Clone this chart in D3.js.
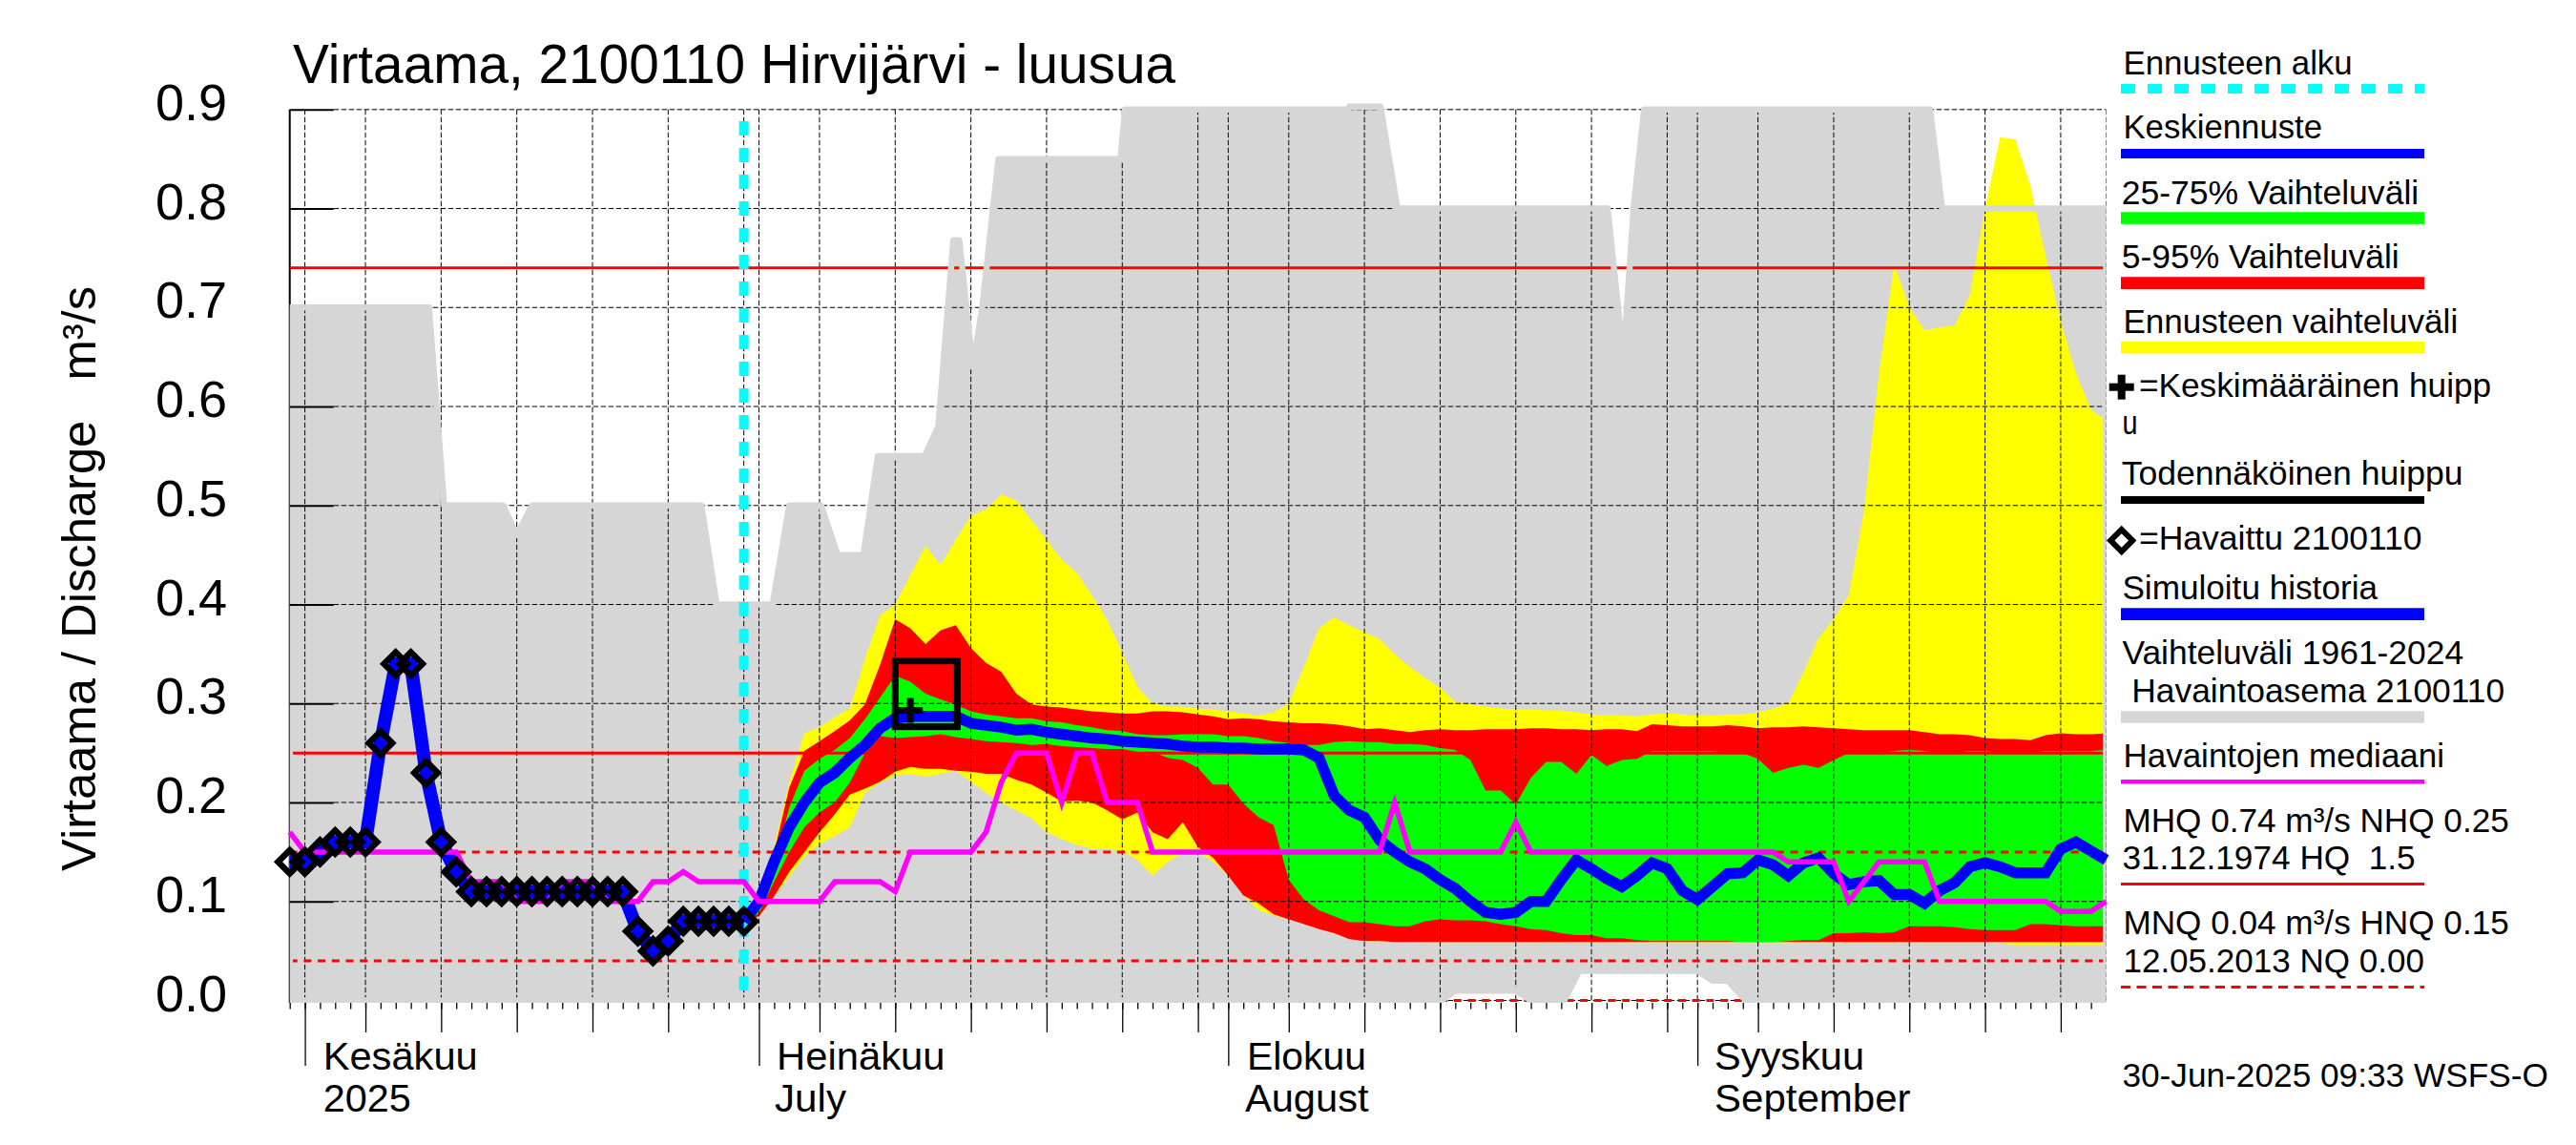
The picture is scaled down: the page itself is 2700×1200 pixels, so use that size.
<!DOCTYPE html>
<html>
<head>
<meta charset="utf-8">
<script src="https://cdn.jsdelivr.net/npm/d3@7"></script>
<style>
body { margin: 0; background: #fff; }
text { font-family: "Liberation Sans", Arial, sans-serif; fill: #000; white-space: pre; }
</style>
</head>
<body>
<svg id="chart" width="2700" height="1200"></svg>
<script>
// day number 0 = 31 May 2025
var yTicks = [0, 0.1, 0.2, 0.3, 0.4, 0.5, 0.6, 0.7, 0.8, 0.9];
var smallTickDays = d3.range(0, 120);
var midTickDays = [5, 10, 15, 20, 25, 35, 40, 45, 50, 55, 60, 66, 71, 76, 81, 86, 91, 97, 102, 107, 112, 117];
var monthDays = [1, 31, 62, 93];
var extraGridDays = [30, 120];
var monthNames = ["Kesäkuu", "Heinäkuu", "Elokuu", "Syyskuu"];
var monthSecond = ["2025", "July", "August", "September"];

var forecastStart = 30;
var MHQ = 0.74, NHQ = 0.25, HNQ = 0.15, MNQ = 0.04, NQ = 0;

var observed = [
	.14,.14,.15,.16,.16,.16,.26,.34,.34,.23,
	.16,.13,.11,.11,.11,.11,.11,.11,.11,.11,
	.11,.11,.11,.07,.05,.06,.08,.08,.08,.08,
	.08];

var median = [
	.17,.15,.15,.15,.15,.15,.15,.15,.15,.15,
	.15,.15,.12,.12,.12,.1,.1,.1,.12,.12,
	.12,.1,.1,.1,.12,.12,.13,.12,.12,.12,
	.12,.1,.1,.1,.1,.1,.12,.12,.12,.12,
	.11,.15,.15,.15,.15,.15,.17,.22,.25,.25,
	.25,.2,.25,.25,.2,.2,.2,.15,.15,.15,
	.15,.15,.15,.15,.15,.15,.15,.15,.15,.15,
	.15,.15,.15,.2,.15,.15,.15,.15,.15,.15,
	.15,.18,.15,.15,.15,.15,.15,.15,.15,.15,
	.15,.15,.15,.15,.15,.15,.15,.15,.15,.14,
	.14,.14,.14,.1,.12,.14,.14,.14,.14,.1,
	.1,.1,.1,.1,.1,.1,.1,.09,.09,.09,
	.1];

// forecast series, first value is day 30
var forecastMean = [
	.08,.1,.14,.175,.2,.22,.23,.245,.258,.275,
	.285,.287,.287,.287,.287,.28,.278,.276,.273,.274,
	.271,.269,.267,.265,.264,.262,.261,.26,.259,.257,
	.256,.256,.255,.255,.254,.254,.254,.253,.245,.207,
	.192,.185,.162,.15,.14,.133,.122,.113,.1,.089,
	.087,.089,.1,.1,.122,.142,.133,.123,.115,.126,
	.139,.133,.111,.102,.115,.128,.129,.142,.137,.126,
	.139,.144,.128,.117,.12,.121,.107,.107,.098,.111,
	.119,.135,.139,.135,.129,.129,.129,.153,.16,.151,
	.142];

var yellowHigh = [
	.08,.105,.155,.22,.27,.276,.286,.295,.345,.389,
	.40,.43,.459,.44,.465,.49,.496,.511,.505,.485,
	.465,.445,.432,.409,.385,.351,.317,.30,.297,.297,
	.295,.294,.292,.29,.288,.291,.30,.337,.376,.387,
	.379,.372,.365,.35,.337,.326,.316,.302,.299,.297,
	.295,.294,.294,.293,.293,.291,.289,.288,.288,.287,
	.289,.29,.289,.288,.288,.289,.289,.291,.295,.30,
	.331,.366,.385,.41,.494,.634,.744,.70,.677,.68,
	.682,.713,.80,.872,.87,.823,.752,.686,.634,.597,
	.586];

var yellowLow = [
	.08,.09,.105,.125,.145,.158,.166,.175,.21,.22,
	.227,.229,.226,.229,.232,.221,.21,.20,.192,.184,
	.17,.163,.157,.153,.153,.151,.142,.126,.14,.149,
	.15,.14,.126,.106,.091,.086,.082,.077,.072,.068,
	.062,.06,.06,.059,.059,.058,.058,.058,.058,.058,
	.058,.058,.058,.058,.058,.058,.058,.058,.058,.058,
	.058,.058,.058,.058,.058,.058,.058,.058,.058,.058,
	.058,.058,.058,.058,.058,.058,.058,.058,.058,.058,
	.058,.058,.058,.058,.056,.056,.056,.056,.056,.056,
	.056];

var redHigh = [
	.08,.1,.15,.215,.252,.262,.272,.283,.299,.339,
	.385,.376,.36,.374,.379,.356,.341,.332,.31,.299,
	.297,.296,.294,.292,.291,.29,.29,.292,.292,.291,
	.289,.287,.284,.285,.284,.282,.281,.28,.28,.279,
	.277,.274,.275,.273,.271,.273,.274,.273,.273,.274,
	.274,.274,.275,.275,.274,.274,.273,.274,.274,.272,
	.279,.278,.277,.277,.277,.278,.277,.275,.276,.276,
	.277,.276,.275,.274,.273,.273,.273,.273,.271,.269,
	.269,.268,.265,.264,.264,.263,.268,.27,.269,.269,
	.27];

var redLow = [
	.08,.085,.105,.13,.15,.17,.188,.208,.214,.221,
	.231,.236,.234,.234,.232,.231,.229,.229,.223,.218,
	.21,.201,.202,.20,.192,.183,.19,.17,.163,.18,
	.155,.144,.126,.106,.098,.087,.082,.077,.072,.068,
	.062,.06,.06,.059,.059,.059,.059,.059,.059,.059,
	.059,.059,.059,.059,.059,.059,.059,.059,.059,.059,
	.059,.059,.059,.059,.059,.059,.059,.059,.059,.059,
	.059,.059,.059,.059,.059,.059,.059,.059,.059,.059,
	.059,.059,.059,.059,.059,.059,.059,.059,.059,.059,
	.059];

var greenHigh = [
	.08,.095,.135,.195,.232,.244,.253,.265,.284,.306,
	.328,.322,.31,.304,.299,.292,.289,.287,.285,.285,
	.282,.281,.278,.276,.273,.272,.269,.268,.268,.269,
	.269,.269,.267,.267,.265,.262,.26,.258,.258,.261,
	.262,.261,.261,.259,.259,.258,.255,.253,.243,.212,
	.212,.198,.225,.241,.241,.229,.248,.237,.243,.244,
	.252,.252,.252,.252,.252,.25,.25,.244,.23,.235,
	.238,.235,.243,.25,.25,.25,.252,.253,.252,.25,
	.25,.252,.252,.25,.25,.25,.252,.252,.252,.252,
	.253];

var greenLow = [
	.08,.088,.12,.15,.175,.19,.2,.22,.25,.267,
	.265,.266,.267,.269,.266,.264,.262,.261,.26,.258,
	.259,.257,.256,.255,.254,.254,.251,.251,.245,.243,
	.235,.218,.218,.199,.185,.177,.122,.102,.091,.085,
	.079,.079,.077,.075,.075,.08,.082,.081,.081,.08,
	.077,.075,.072,.071,.068,.066,.066,.063,.063,.061,
	.06,.06,.06,.06,.06,.06,.059,.059,.059,.06,
	.061,.061,.068,.068,.069,.068,.069,.075,.075,.075,
	.074,.072,.071,.071,.071,.077,.077,.076,.075,.075,
	.075];

// historic range 1961-2024, only the break points of its outline
var grayHighDays = [0,9.2,10.2,14.1,15,16,27.2,28.2,31.9,33,35.1,36.2,37.9,38.85,41.95,42.85,43.84,44.23,45.13,45.75,46.82,54.89,55.18,69.95,70,72.06,73.18,87.07,88.03,88.17,88.78,89.48,108.37,109.17,120];
var grayHighValues = [.7,.7,.5,.5,.47,.5,.5,.4,.4,.5,.5,.45,.45,.55,.55,.58,.768,.768,.64,.7,.85,.85,.9,.9,.903,.903,.8,.8,.66,.66,.8,.9,.9,.8,.8];
var grayLowDays = [0,76.1,77,81,82,84.2,85.2,93,94,95,96.2,120];
var grayLowValues = [0,0,.01,.01,0,0,.03,.03,.02,.02,0,0];

var peakBoxDays = [40, 44.1];
var peakBoxValues = [.2765, .343];
var meanPeakDay = 41;
var meanPeakValue = .293;

var title = "Virtaama, 2100110 Hirvijärvi - luusua";
var yLabel = "Virtaama / Discharge   m³/s";
var legendTexts = [
	"Ennusteen alku", "Keskiennuste", "25-75% Vaihteluväli", "5-95% Vaihteluväli",
	"Ennusteen vaihteluväli", "=Keskimääräinen huipp", "u", "Todennäköinen huippu",
	"=Havaittu 2100110", "Simuloitu historia", "Vaihteluväli 1961-2024", " Havaintoasema 2100110",
	"Havaintojen mediaani", "MHQ 0.74 m³/s NHQ 0.25", "31.12.1974 HQ  1.5",
	"MNQ 0.04 m³/s HNQ 0.15", "12.05.2013 NQ 0.00", "30-Jun-2025 09:33 WSFS-O"
];

// layout
var legendTextX = [2225.4,2225.4,2223.7,2223.7,2225.4,2241.9,2224.4,2223.7,2241.9,2224.4,2224.4,2224.4,2225.4,2225.4,2224.4,2225.4,2225.4,2224.4];
var legendTextW = [240.3,208.7,311.5,291,350.8,369.3,16,357.8,296.7,267.6,357.8,400.8,336.7,404.4,307.3,404.4,315.7,446.5];
var legendTextY = [77.7,145.4,213.5,281,349,416.4,455.4,508,576,627.6,695.7,735.9,804,871.7,911,978.9,1019,1138.8];
var monthX = [338.7, 814, 1307, 1797];
var monthW = [162, 176.6, 125, 157];
var secondX = [338.7, 812, 1305, 1797];
var secondW = [92, 75, 129.5, 205.5];

var left = 303.7, right = 2207.5, bottom = 1051;
var x = d3.scaleLinear().domain([0, 120]).range([left, right]);
var y = d3.scaleLinear().domain([0, 0.9]).range([1048.5, 114.8]);

var svg = d3.select("#chart");

svg.append("defs").append("clipPath").attr("id", "plot")
	.append("rect").attr("x", left).attr("y", 100).attr("width", right - left).attr("height", bottom - 100);

var plot = svg.append("g").attr("clip-path", "url(#plot)");

// gray range fill
var outline = grayHighDays.map(function (d, i) { return [x(d), y(grayHighValues[i])]; })
	.concat(grayLowDays.map(function (d, i) { return [x(d), y(grayLowValues[i])]; }).reverse());
var outlinePath = d3.line().curve(d3.curveLinearClosed)(outline);
plot.append("path").attr("d", outlinePath).attr("fill", "#d6d6d6");

// forecast bands
var bandDays = d3.range(forecastStart, 121);
function drawBand(high, low, color) {
	var area = d3.area()
		.x(function (d, i) { return x(d); })
		.y0(function (d, i) { return y(low[i]); })
		.y1(function (d, i) { return y(high[i]); });
	plot.append("path").attr("d", area(bandDays)).attr("fill", color);
}
drawBand(yellowHigh, yellowLow, "#ffff00");
drawBand(redHigh, redLow, "#ff0000");
drawBand(greenHigh, greenLow, "#00ff00");

// grid
var gridDays = midTickDays.concat(monthDays, extraGridDays);
plot.selectAll(".vgrid").data(gridDays).enter().append("line")
	.attr("x1", function (d) { return x(d); }).attr("x2", function (d) { return x(d); })
	.attr("y1", y(0.9)).attr("y2", y(0))
	.attr("stroke", "#000").attr("stroke-width", 1).attr("stroke-dasharray", "5.5,2.5");
plot.selectAll(".hgrid").data(yTicks).enter().append("line")
	.attr("x1", left + 46).attr("x2", right)
	.attr("y1", function (d) { return y(d); }).attr("y2", function (d) { return y(d); })
	.attr("stroke", "#000").attr("stroke-width", 1).attr("stroke-dasharray", "5.5,2.5");

// left axis with its short ticks
var yAxis = d3.axisRight(y).tickValues(yTicks).tickSize(46).tickFormat("");
var yAxisG = svg.append("g").attr("transform", "translate(" + left + ",0)").call(yAxis);
yAxisG.select(".domain").remove();
yAxisG.selectAll("line").attr("stroke", "#000").attr("stroke-width", 2);
svg.insert("line", "g")
	.attr("x1", left).attr("x2", left).attr("y1", y(0.9)).attr("y2", bottom)
	.attr("stroke", "#000").attr("stroke-width", 2);

// red reference lines
var refLines = [MHQ, NHQ];
var refDashed = [HNQ, MNQ, NQ];
plot.selectAll(".ref").data(refLines).enter().append("line")
	.attr("x1", left).attr("x2", right)
	.attr("y1", function (d) { return y(d); }).attr("y2", function (d) { return y(d); })
	.attr("stroke", "#ff0000").attr("stroke-width", 3);
plot.selectAll(".refd").data(refDashed).enter().append("line")
	.attr("x1", left).attr("x2", right)
	.attr("y1", function (d) { return y(d); }).attr("y2", function (d) { return y(d); })
	.attr("stroke", "#ff0000").attr("stroke-width", 3).attr("stroke-dasharray", "8,6.7");

// thick edge of the gray range goes over bands and grid
var edgeG = svg.append("g").attr("clip-path", "url(#plot)");
edgeG.append("path").attr("d", outlinePath)
	.attr("fill", "none").attr("stroke", "#d6d6d6").attr("stroke-width", 6.5).attr("stroke-linejoin", "round");
// ticks stay visible over the fill but not the edge: redraw the ones left of the edge
yAxisG.raise();
yAxisG.selectAll(".tick").filter(function (d) { return d === 0.7 || d === 0; }).remove();

// forecast start
svg.append("line")
	.attr("x1", x(forecastStart)).attr("x2", x(forecastStart))
	.attr("y1", 127).attr("y2", y(0))
	.attr("stroke", "#00ffff").attr("stroke-width", 10).attr("stroke-dasharray", "15,13");

// bottom axis, three tick lengths
function tickAxis(days, size) {
	var axis = d3.axisBottom(x).tickValues(days).tickSize(size).tickFormat("");
	var g = svg.append("g").attr("transform", "translate(0," + bottom + ")").call(axis);
	g.select(".domain").remove();
	g.selectAll("line").attr("stroke", "#000").attr("stroke-width", 1.3);
}
tickAxis(smallTickDays, 6.5);
tickAxis(midTickDays, 31);
tickAxis(monthDays, 66);

// y labels
var yLabels = d3.axisLeft(y).tickValues(yTicks).tickSize(0).tickFormat(d3.format(".1f"));
var yLabelsG = svg.append("g").attr("transform", "translate(238,0)").call(yLabels);
yLabelsG.select(".domain").remove();
yLabelsG.selectAll("text")
	.attr("x", 0).attr("dy", 10.5)
	.attr("text-anchor", "end").style("font-size", "54px").style("font-family", "'Liberation Sans'");

// lines
var line = d3.line().x(function (d) { return x(d[0]); }).y(function (d) { return y(d[1]); });
var historyPoints = observed.map(function (d, i) { return [i, d]; });
var forecastPoints = forecastMean.map(function (d, i) { return [forecastStart + i, d]; });
svg.append("path").attr("d", line(historyPoints))
	.attr("fill", "none").attr("stroke", "#0000ff").attr("stroke-width", 14);
svg.append("path").attr("d", line(forecastPoints))
	.attr("fill", "none").attr("stroke", "#0000ff").attr("stroke-width", 11.5);
svg.append("path").attr("d", line(median.map(function (d, i) { return [i, d]; })))
	.attr("fill", "none").attr("stroke", "#ff00ff").attr("stroke-width", 5.5);

// observations
var diamond = d3.symbol().type(d3.symbolSquare).size(300);
svg.selectAll(".obs").data(historyPoints).enter().append("path")
	.attr("d", diamond)
	.attr("transform", function (d) { return "translate(" + x(d[0]) + "," + y(d[1]) + ") rotate(45)"; })
	.attr("fill", "none").attr("stroke", "#000").attr("stroke-width", 6.5);

// probable peak box and mean peak
svg.append("rect")
	.attr("x", x(peakBoxDays[0])).attr("width", x(peakBoxDays[1]) - x(peakBoxDays[0]))
	.attr("y", y(peakBoxValues[1])).attr("height", y(peakBoxValues[0]) - y(peakBoxValues[1]))
	.attr("fill", "none").attr("stroke", "#000").attr("stroke-width", 7);
function plus(px, py, len, thick) {
	svg.append("rect").attr("x", px - len / 2).attr("y", py - thick / 2).attr("width", len).attr("height", thick).attr("fill", "#000");
	svg.append("rect").attr("x", px - thick / 2).attr("y", py - len / 2).attr("width", thick).attr("height", len).attr("fill", "#000");
}
plus(x(meanPeakDay), y(meanPeakValue), 26, 7);

// titles
svg.append("text").attr("x", 307).attr("y", 87)
	.attr("textLength", 925).attr("lengthAdjust", "spacingAndGlyphs")
	.style("font-size", "58px").text(title);
svg.append("text")
	.attr("transform", "translate(100,913) rotate(-90)")
	.attr("textLength", 613).attr("lengthAdjust", "spacingAndGlyphs")
	.style("font-size", "50px").text(yLabel);

// month labels
function fitted(str, px, py, w, size) {
	svg.append("text").attr("x", px).attr("y", py)
		.attr("textLength", w).attr("lengthAdjust", "spacingAndGlyphs")
		.style("font-size", size + "px").text(str);
}
monthNames.forEach(function (m, i) {
	fitted(m, monthX[i], 1120.5, monthW[i], 41);
	fitted(monthSecond[i], secondX[i], 1164.5, secondW[i], 41);
});

// legend
legendTexts.forEach(function (t, i) {
	fitted(t, legendTextX[i], legendTextY[i], legendTextW[i], 35);
});
var keyLines = [
	{ y: 93, w: 10, c: "#00ffff", dash: "15,13" },
	{ y: 161, w: 10, c: "#0000ff" },
	{ y: 228.5, w: 12.6, c: "#00ff00" },
	{ y: 296.6, w: 12.6, c: "#ff0000" },
	{ y: 364.3, w: 12.6, c: "#ffff00" },
	{ y: 524, w: 8, c: "#000" },
	{ y: 643.6, w: 12.6, c: "#0000ff" },
	{ y: 751.5, w: 12.6, c: "#d6d6d6" },
	{ y: 819.3, w: 4.6, c: "#ff00ff" },
	{ y: 926.4, w: 3, c: "#ff0000" },
	{ y: 1034.4, w: 3, c: "#ff0000", dash: "10,6.5" }
];
svg.selectAll(".key").data(keyLines).enter().append("line")
	.attr("x1", 2223).attr("x2", 2541)
	.attr("y1", function (d) { return d.y; }).attr("y2", function (d) { return d.y; })
	.attr("stroke", function (d) { return d.c; })
	.attr("stroke-width", function (d) { return d.w; })
	.attr("stroke-dasharray", function (d) { return d.dash || null; });
plus(2223.7, 405.7, 26, 8);
svg.append("path").attr("d", d3.symbol().type(d3.symbolSquare).size(265))
	.attr("transform", "translate(2223.7,566.4) rotate(45)")
	.attr("fill", "#fff").attr("stroke", "#000").attr("stroke-width", 6);
</script>
</body>
</html>
